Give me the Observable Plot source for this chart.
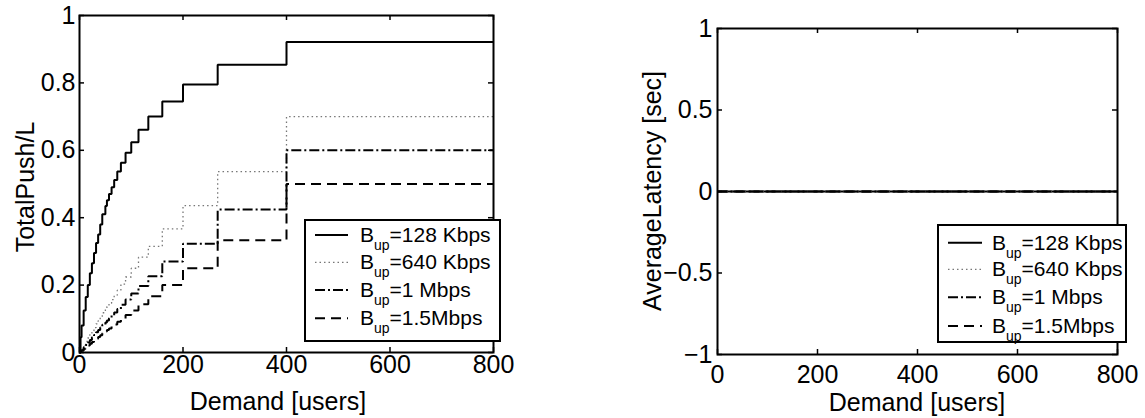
<!DOCTYPE html>
<html><head><meta charset="utf-8">
<script src="https://cdn.jsdelivr.net/npm/d3@7"></script>
<script src="https://cdn.jsdelivr.net/npm/@observablehq/plot@0.6"></script>
<style>
body{margin:0;background:#fff;}
#wrap{position:relative;width:1145px;height:418px;background:#fff;overflow:hidden;}
#wrap svg{position:absolute;top:0;overflow:visible;background:transparent;}
</style></head><body><div id="wrap"></div>
<script>
// ---- data ----
const demand = [0, 2, 4, 8, 12, 16, 20, 24, 28, 32, 36, 40, 44, 50, 53, 57, 62, 67, 73, 80, 89, 100, 114, 133, 160, 200, 267, 400, 800];
const push128 = [0, 0.045, 0.08, 0.125, 0.165, 0.2, 0.235, 0.265, 0.295, 0.325, 0.35, 0.38, 0.41, 0.435, 0.452, 0.47, 0.49, 0.512, 0.537, 0.563, 0.593, 0.624, 0.661, 0.70, 0.745, 0.795, 0.854, 0.921, 0.921];
const push640 = [0, 0.006, 0.012, 0.022, 0.033, 0.043, 0.054, 0.064, 0.074, 0.085, 0.094, 0.105, 0.118, 0.128, 0.136, 0.146, 0.157, 0.17, 0.185, 0.203, 0.224, 0.25, 0.283, 0.315, 0.367, 0.436, 0.537, 0.70, 0.70];
const push1M = [0, 0.004, 0.007, 0.015, 0.022, 0.03, 0.037, 0.045, 0.052, 0.06, 0.067, 0.074, 0.082, 0.089, 0.095, 0.102, 0.11, 0.119, 0.129, 0.142, 0.157, 0.175, 0.197, 0.226, 0.27, 0.3225, 0.424, 0.60, 0.60];
const push15M = [0, 0.003, 0.006, 0.011, 0.016, 0.021, 0.026, 0.031, 0.036, 0.041, 0.046, 0.051, 0.057, 0.0625, 0.0667, 0.071, 0.077, 0.083, 0.091, 0.1, 0.111, 0.125, 0.143, 0.167, 0.2, 0.25, 0.333, 0.5, 0.5];

const latencyDemand = [0, 800];
const latency128 = [0, 0];
const latency640 = [0, 0];
const latency1M = [0, 0];
const latency15M = [0, 0];

const seriesLabels = ["=128 Kbps", "=640 Kbps", "=1 Mbps", "=1.5Mbps"];
const xTicks = [0, 200, 400, 600, 800];
const pushTicks = [0, 0.2, 0.4, 0.6, 0.8, 1];
const latencyTicks = [-1, -0.5, 0, 0.5, 1];
const xTitle = "Demand [users]";
const pushTitle = "TotalPush/L";
const latencyTitle = "AverageLatency [sec]";

// ---- styles ----
const FONT = "'Liberation Sans', Arial, Helvetica, sans-serif";
const lineStyles = [
  {stroke: "#000", strokeWidth: 2},
  {stroke: "#777", strokeWidth: 1.3, strokeDasharray: "1.5 3"},
  {stroke: "#000", strokeWidth: 2, strokeDasharray: "10 3 2 3"},
  {stroke: "#000", strokeWidth: 2, strokeDasharray: "10 6"}
];
const fmt = d => (d < 0 ? "\u2212" + String(-d) : String(d));

function panel(cfg) {
  const iw = cfg.width - cfg.mL - cfg.mR;
  const ih = cfg.height - cfg.mT - cfg.mB;
  const T = 5;
  const lines = cfg.series.map((vals, i) =>
    Plot.line(cfg.xs.map((x, j) => ({x, y: vals[j]})),
      {x: "x", y: "y", curve: "step-after", strokeLinejoin: "miter", strokeLinecap: "butt", ...lineStyles[i]}));
  const svg = Plot.plot({
    width: cfg.width, height: cfg.height,
    marginLeft: cfg.mL, marginRight: cfg.mR, marginTop: cfg.mT, marginBottom: cfg.mB,
    style: {fontFamily: FONT, background: "transparent", color: "#000", overflow: "visible"},
    x: {domain: [0, 800]},
    y: {domain: cfg.yDomain},
    marks: [
      ...lines,
      Plot.tickX(xTicks, {x: d => d, insetTop: ih - T, stroke: "#000", strokeWidth: 1.5}),
      Plot.tickX(xTicks, {x: d => d, insetBottom: ih - T, stroke: "#000", strokeWidth: 1.5}),
      Plot.tickY(cfg.yTicks, {y: d => d, insetRight: iw - T, stroke: "#000", strokeWidth: 1.5}),
      Plot.tickY(cfg.yTicks, {y: d => d, insetLeft: iw - T, stroke: "#000", strokeWidth: 1.5}),
      Plot.frame({stroke: "#000", strokeWidth: 2}),
      Plot.axisX(xTicks, {anchor: "bottom", tickSize: 0, tickPadding: cfg.xPad, fontSize: 25, label: null, fill: "#000", tickFormat: fmt}),
      Plot.axisY(cfg.yTicks, {anchor: "left", tickSize: 0, tickPadding: cfg.yPad, fontSize: 25, label: null, fill: "#000", tickFormat: fmt})
    ]
  });
  svg.style.left = cfg.left + "px";
  const s = d3.select(svg);
  // axis titles
  s.append("text").attr("x", cfg.xTitleX).attr("y", cfg.xTitleY)
    .attr("text-anchor", "middle").attr("font-size", 25).attr("font-family", FONT).attr("fill", "#000").text(xTitle);
  s.append("text").attr("transform", `translate(${cfg.yTitleX},${cfg.yTitleY}) rotate(-90)`)
    .attr("text-anchor", "middle").attr("font-size", 25).attr("font-family", FONT).attr("fill", "#000").text(cfg.yTitle);
  // legend
  const L = cfg.legend;
  const g = s.append("g").attr("font-family", FONT).attr("text-anchor", "start");
  g.append("rect").attr("x", L.x0).attr("y", L.y0).attr("width", L.x1 - L.x0).attr("height", L.y1 - L.y0)
    .attr("fill", "#fff").attr("stroke", "#000").attr("stroke-width", 2);
  seriesLabels.forEach((lab, i) => {
    const y = L.rows[i];
    const st = lineStyles[i];
    g.append("line").attr("x1", L.s0).attr("x2", L.s1).attr("y1", y).attr("y2", y)
      .attr("stroke", st.stroke).attr("stroke-width", st.strokeWidth)
      .attr("stroke-dasharray", st.strokeDasharray || null);
    const t = g.append("text").attr("x", L.tx).attr("y", y + 7).attr("font-size", 21)
      .attr("text-anchor", "start").attr("fill", "#000");
    t.append("tspan").text("B");
    t.append("tspan").attr("dy", 8).attr("font-size", 14).text("up");
    t.append("tspan").attr("dy", -8).text(lab);
  });
  document.getElementById("wrap").appendChild(svg);
}

panel({
  left: 0, width: 520, height: 418, mL: 79, mR: 27, mT: 15, mB: 66,
  xs: demand, series: [push128, push640, push1M, push15M],
  yDomain: [0, 1], yTicks: pushTicks, xPad: 3, yPad: 4,
  yTitle: pushTitle, xTitleX: 278, xTitleY: 410, yTitleX: 34, yTitleY: 187,
  legend: {x0: 305, x1: 500, y0: 220, y1: 341, s0: 315, s1: 348, tx: 360, rows: [235, 262.3, 290, 318.3]}
});
panel({
  left: 640, width: 505, height: 418, mL: 77, mR: 28, mT: 28, mB: 64,
  xs: latencyDemand, series: [latency128, latency640, latency1M, latency15M],
  yDomain: [-1, 1], yTicks: latencyTicks, xPad: 11, yPad: 5,
  yTitle: latencyTitle, xTitleX: 277, xTitleY: 411, yTitleX: 21, yTitleY: 191,
  legend: {x0: 298, x1: 486, y0: 225, y1: 342, s0: 308, s1: 342, tx: 352, rows: [242.7, 269.3, 297.3, 326]}
});
</script></body></html>
